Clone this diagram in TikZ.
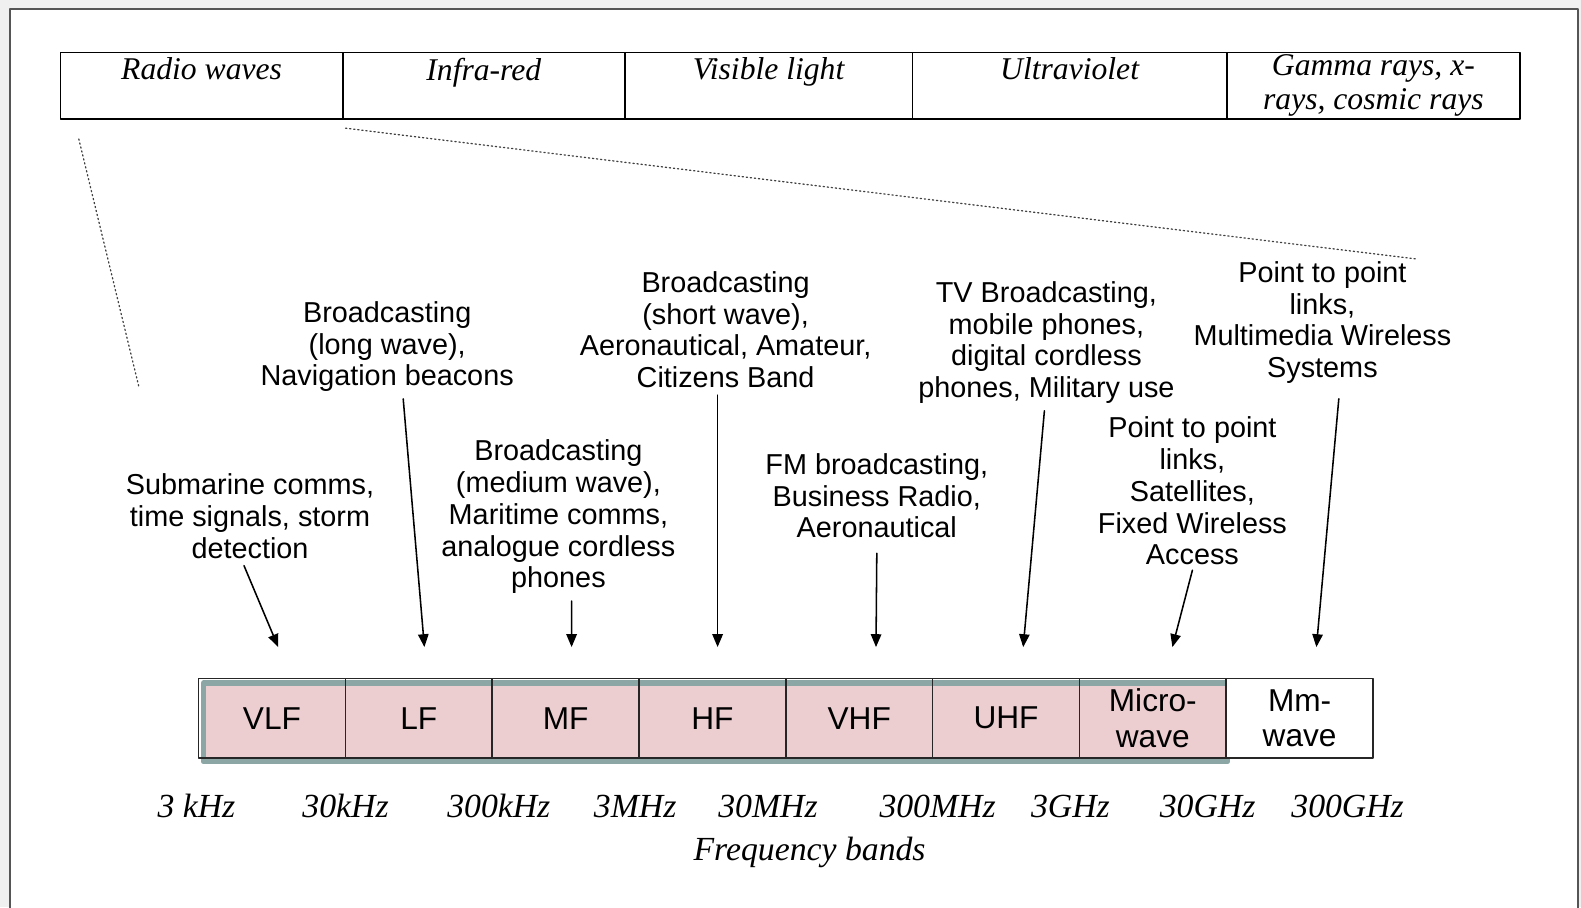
\documentclass[tikz,border=0pt]{standalone}
\usepackage{fontspec}
\setmainfont{Liberation Serif}
\newfontfamily\annfont{Liberation Sans}
\usepackage{tikz}
\usetikzlibrary{arrows}
\definecolor{bandpink}{RGB}{236,206,209}
\definecolor{bandteal}{RGB}{140,166,166}
\definecolor{framegray}{RGB}{85,85,85}

\begin{document}
\begin{tikzpicture}[line cap=round,line join=round,>=triangle 45,x=1.0cm,y=1.0cm,
	spec/.style={draw,line width=1.2pt,minimum height=1.665cm,inner sep=0pt,align=center,font=\fontsize{22.5}{24}\selectfont\itshape},
	band/.style={draw=black!85,line width=1.2pt,minimum width=3.669cm,minimum height=1.99cm,inner sep=0pt,align=center,font=\annfont\fontsize{22.5}{25}\selectfont},
	appl/.style={align=center,inner sep=2pt,font=\annfont\fontsize{20.5}{22.6}\selectfont},
	freq/.style={inner sep=0pt,font=\fontsize{24}{26}\selectfont\itshape},
	conn/.style={->,line width=1.1pt},
	zoomline/.style={dotted,line width=0.9pt,black!75}]
	\clip (0,0) rectangle (39.525,22.675);
	\fill [gray!12] (0,0) rectangle (39.525,22.675);
	\draw [line width=2pt,framegray,fill=white] (0.25,-1) rectangle (39.45,22.45);

	\node [spec,minimum width=7.06cm] (radio) at (5.04,20.53) {Radio waves\\ \mbox{}};
	\node [spec,minimum width=7.05cm] (infra) at (12.095,20.53) {Infra-red\\ \mbox{}};
	\node [spec,minimum width=7.19cm] (visible) at (19.215,20.53) {Visible light\\ \mbox{}};
	\node [spec,minimum width=7.86cm] (uv) at (26.74,20.53) {Ultraviolet\\ \mbox{}};
	\node [spec,minimum width=7.33cm] (gamma) at (34.335,20.53) {Gamma rays, x-\\ rays, cosmic rays};

	\coordinate (zl1) at (1.97,19.20);
	\coordinate (zl2) at (3.48,12.97);
	\coordinate (zr1) at (8.64,19.47);
	\coordinate (zr2) at (35.41,16.20);
	\draw [zoomline] (zl1) -- (zl2);
	\draw [zoomline] (zr1) -- (zr2);

	\draw [bandteal,line width=4pt,fill=bandpink] (5.09,5.60) rectangle (30.69,3.64);
	\node [band] (vlf) at (6.80,4.72) {VLF};
	\node [band] (lf) at (10.47,4.72) {LF};
	\node [band] (mf) at (14.14,4.72) {MF};
	\node [band] (hf) at (17.81,4.72) {HF};
	\node [band] (vhf) at (21.48,4.72) {VHF};
	\node [band] (uhf) at (25.15,4.72) {UHF};
	\node [band] (micro) at (28.82,4.72) {Micro-\\ wave};
	\node [band,fill=white] (mm) at (32.49,4.72) {Mm-\\ wave};

	\node [freq] (f3k) at (4.91,2.52) {3 kHz};
	\node [freq] (f30k) at (8.64,2.52) {30kHz};
	\node [freq] (f300k) at (12.47,2.52) {300kHz};
	\node [freq] (f3m) at (15.88,2.52) {3MHz};
	\node [freq] (f30m) at (19.20,2.52) {30MHz};
	\node [freq] (f300m) at (23.44,2.52) {300MHz};
	\node [freq] (f3g) at (26.76,2.52) {3GHz};
	\node [freq] (f30g) at (30.19,2.52) {30GHz};
	\node [freq] (f300g) at (33.69,2.52) {300GHz};
	\node [freq] (bands) at (20.24,1.36) {Frequency bands};

	\node [appl] (sub) at (6.25,9.77) {Submarine comms,\\ time signals, storm\\ detection};
	\node [appl] (lfuse) at (9.68,14.01) {Broadcasting\\ (long wave),\\ Navigation beacons};
	\node [appl] (mfuse) at (13.96,9.75) {Broadcasting\\ (medium wave),\\ Maritime comms,\\ analogue cordless\\ phones};
	\node [appl] (hfuse) at (18.14,14.43) {Broadcasting\\ (short wave),\\ Aeronautical, Amateur,\\ Citizens Band};
	\node [appl] (vhfuse) at (21.92,10.28) {FM broadcasting,\\ Business Radio,\\ Aeronautical};
	\node [appl] (uhfuse) at (26.16,14.11) {TV Broadcasting,\\ mobile phones,\\ digital cordless\\ phones, Military use};
	\node [appl] (micuse) at (29.81,10.40) {Point to point\\ links,\\ Satellites,\\ Fixed Wireless\\ Access};
	\node [appl] (mmuse) at (33.06,14.61) {Point to point\\ links,\\ Multimedia Wireless\\ Systems};

	\coordinate (vlftip) at (6.955,6.50);
	\coordinate (lftip) at (10.61,6.50);
	\coordinate (mftip) at (14.29,6.50);
	\coordinate (hftip) at (17.94,6.50);
	\coordinate (vhftip) at (21.90,6.50);
	\coordinate (uhftip) at (25.58,6.50);
	\coordinate (mictip) at (29.31,6.50);
	\coordinate (mmtip) at (32.91,6.50);
	\draw [conn] ([xshift=-0.15cm,yshift=-0.1cm]sub.south) -- (vlftip);
	\draw [conn] ([xshift=0.40cm,yshift=-0.1cm]lfuse.south) -- (lftip);
	\draw [conn] ([xshift=0.33cm,yshift=-0.1cm]mfuse.south) -- (mftip);
	\draw [conn] ([xshift=-0.20cm,yshift=-0.1cm]hfuse.south) -- (hftip);
	\draw [conn] ([yshift=-0.3cm]vhfuse.south) -- (vhftip);
	\draw [conn] ([xshift=-0.05cm,yshift=-0.1cm]uhfuse.south) -- (uhftip);
	\draw [conn] ([yshift=-0.05cm]micuse.south) -- (mictip);
	\draw [conn] ([xshift=0.41cm,yshift=-0.3cm]mmuse.south) -- (mmtip);
\end{tikzpicture}
\end{document}
